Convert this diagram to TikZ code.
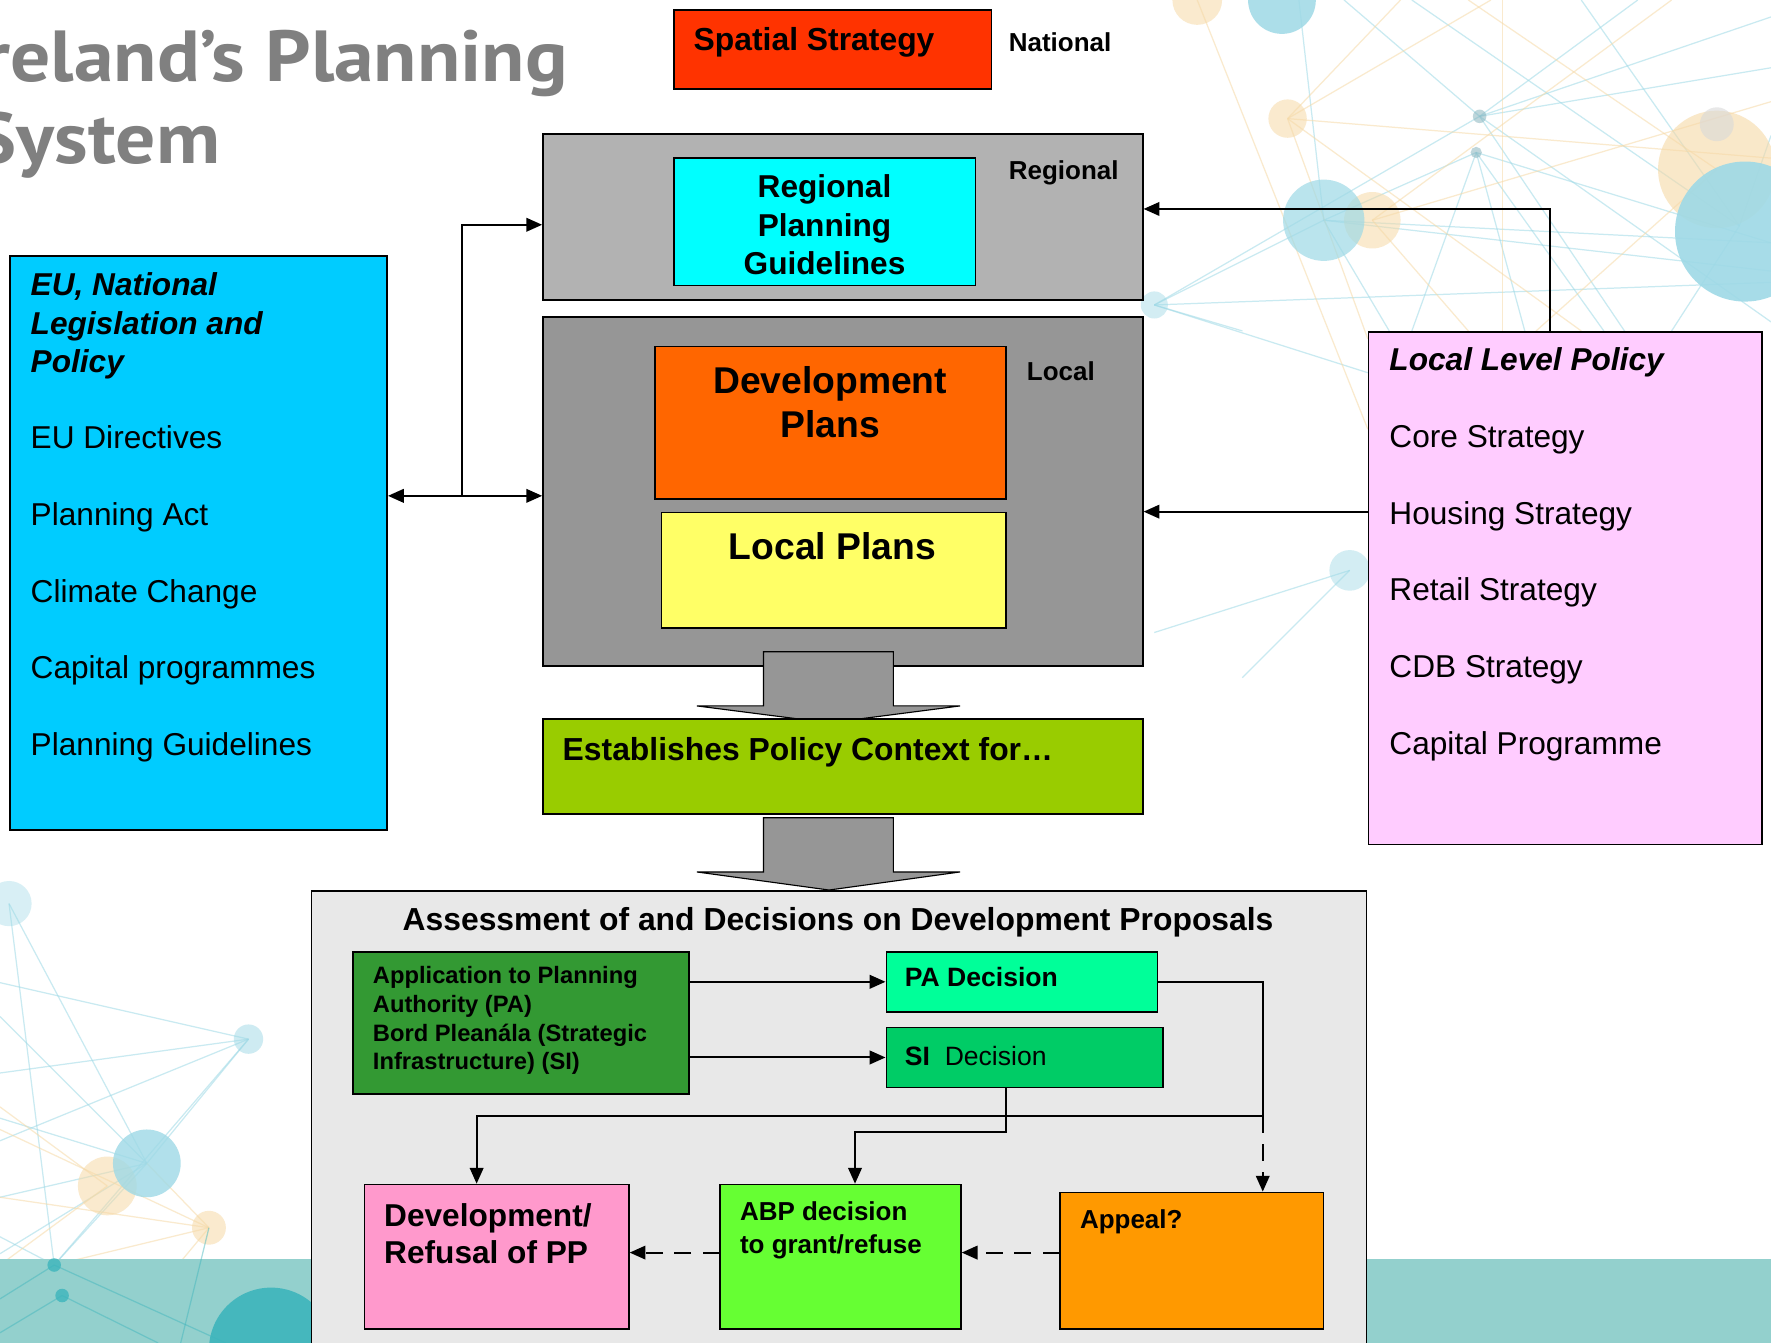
\documentclass[tikz,border=0pt]{standalone}
\usepackage{fontspec}
\setmainfont{Liberation Sans}
\newfontfamily\titlefont{PT Sans}
\usetikzlibrary{arrows.meta}
\definecolor{cRed}{HTML}{FF3300}
\definecolor{cCyan}{HTML}{00FFFF}
\definecolor{cGrayA}{HTML}{B2B2B2}
\definecolor{cGrayB}{HTML}{969696}
\definecolor{cOrange}{HTML}{FF6600}
\definecolor{cYellow}{HTML}{FFFF66}
\definecolor{cLime}{HTML}{99CC00}
\definecolor{cSky}{HTML}{00CCFF}
\definecolor{cPinkL}{HTML}{FFCCFF}
\definecolor{cAssess}{HTML}{E8E8E8}
\definecolor{cDkGreen}{HTML}{339933}
\definecolor{cMint}{HTML}{00FF99}
\definecolor{cGreenB}{HTML}{00CC66}
\definecolor{cPink}{HTML}{FF99CC}
\definecolor{cBright}{HTML}{66FF33}
\definecolor{cAmber}{HTML}{FF9900}
\definecolor{cTitle}{HTML}{808080}
\definecolor{cBand}{HTML}{93D0CD}
\definecolor{nTeal}{HTML}{9ED9E6}
\definecolor{nOr}{HTML}{F6D9A6}
\definecolor{nDark}{HTML}{3DB5BC}
\newcommand\mybox[6]{\node[box, fill=#6, minimum width=#4pt, minimum height=#5pt] (#1) at (#2,#3) {};}
\begin{document}
\begin{tikzpicture}[x=1pt,y=-1pt,
  box/.style={draw=black, line width=1.5pt, inner sep=0pt, anchor=north west},
  lbl/.style={inner sep=0pt, anchor=base west},
  ctr/.style={inner sep=0pt, anchor=base},
  fL/.style={font=\fontsize{28}{33}\selectfont},
  fM/.style={font=\fontsize{23}{28}\selectfont\bfseries},
  fS/.style={font=\fontsize{21}{25}\selectfont\bfseries},
  fB/.style={font=\fontsize{33}{39}\selectfont\bfseries},
  conn/.style={line width=1.8pt},
  arr/.style={conn, -{Triangle[length=14pt,width=12pt]}},
  darr/.style={conn, {Triangle[length=14pt,width=12pt]}-{Triangle[length=14pt,width=12pt]}},
  dsh/.style={dash pattern=on 15pt off 10pt},
  blk/.style={draw=black, line width=1pt, fill=cGrayB},
  nl/.style={line width=1.1pt, opacity=0.55},
]
\path[use as bounding box] (0,0) rectangle (1568,1189);
\clip (0,0) rectangle (1568,1189);
\fill[white] (0,0) rectangle (1568,1189);

% ---------- background network (decoration) ----------
\begin{scope}[nl]
  \foreach \p/\q in {{1310,103}/{1568,60},{1310,103}/{1568,15},{1310,103}/{1450,0},{1310,103}/{1190,0},{1310,103}/{1022,270},{1310,103}/{1568,285},{1310,103}/{1470,340},
                     {1307,135}/{1172,195},{1307,135}/{1250,293},{1307,135}/{1568,215},{1307,135}/{1420,293},{1307,135}/{1350,293},
                     {1172,195}/{1022,270},{1172,195}/{1568,215},{1172,195}/{1568,240},{1172,195}/{1230,293},{1172,195}/{1150,0},
                     {1022,270}/{1568,250},{1022,270}/{1211,330},{1022,270}/{1100,293},
                     {1540,200}/{1400,0},{1540,200}/{1250,0},{1540,200}/{1480,293},{1540,200}/{1568,120},
                     {1195,505}/{1022,560},{1195,505}/{1100,600}}
    {\draw[nTeal] (\p) -- (\q);}
  \foreach \p/\q in {{1140,105}/{1568,140},{1140,105}/{1320,0},{1140,105}/{1240,0},{1140,105}/{1211,300},{1140,105}/{1400,293},
                     {1215,195}/{1568,90},{1215,195}/{1480,0},{1215,195}/{1300,293},
                     {1520,150}/{1300,0},{1520,150}/{1360,293},{1060,0}/{1211,380},{1330,0}/{1330,293}}
    {\draw[nOr] (\p) -- (\q);}
  \foreach \p/\q in {{220,920}/{0,870},{220,920}/{0,950},{220,920}/{48,1120},{220,920}/{130,1030},{220,920}/{0,1010},
                     {130,1030}/{0,990},{130,1030}/{0,1060},{130,1030}/{8,800},{130,1030}/{48,1120},{130,1030}/{0,1110},
                     {8,800}/{48,1120},{0,900}/{130,1030},{48,1120}/{0,1095},{48,1120}/{0,1160},{55,1147}/{0,1189},{55,1147}/{110,1189},{55,1147}/{0,1130}}
    {\draw[nTeal] (\p) -- (\q);}
  \foreach \p/\q in {{185,1087}/{0,1000},{185,1087}/{48,1120},{185,1087}/{100,1189},{185,1087}/{130,1030},{95,1050}/{0,980},{95,1050}/{0,1120},{185,1087}/{0,1060}}
    {\draw[nOr] (\p) -- (\q);}
\end{scope}
\fill[nOr, opacity=0.6] (1520,150) circle (52);
\fill[nTeal, opacity=0.9] (1545,205) circle (62);
\fill[black!15, opacity=0.6] (1520,110) circle (15);
\fill[nOr, opacity=0.55] (1060,0) circle (22);
\fill[nTeal, opacity=0.85] (1135,0) circle (30);
\fill[nOr, opacity=0.55] (1140,105) circle (17);
\fill[nOr, opacity=0.55] (1215,195) circle (25);
\fill[nTeal, opacity=0.7] (1172,195) circle (36);
\fill[nTeal!80!black, opacity=0.5] (1310,103) circle (6);
\fill[nTeal!80!black, opacity=0.5] (1307,135) circle (5);
\fill[nTeal, opacity=0.45] (1022,270) circle (12);
\fill[nTeal, opacity=0.45] (1195,505) circle (18);
\fill[nTeal, opacity=0.4] (8,800) circle (20);
\fill[nTeal, opacity=0.5] (220,920) circle (13);
\fill[nOr, opacity=0.55] (95,1050) circle (26);
\fill[nTeal, opacity=0.8] (130,1030) circle (30);
\fill[nOr, opacity=0.55] (185,1087) circle (15);
\fill[cBand] (0,1115) rectangle (1568,1189);
\begin{scope}[line width=1.1pt, nDark, opacity=0.45]
  \draw (48,1120) -- (0,1150); \draw (55,1147) -- (0,1180); \draw (55,1147) -- (140,1189);
  \draw (48,1120) -- (200,1189); \draw (185,1087) -- (160,1189);
\end{scope}
\fill[nDark, opacity=0.8] (48,1120) circle (6);
\fill[nDark, opacity=0.8] (55,1147) circle (6);
\fill[nDark, opacity=0.9] (240,1195) circle (55);

% ---------- title ----------
\node[inner sep=0pt, anchor=base east, text=cTitle, font=\titlefont\bfseries\fontsize{64}{70}\selectfont] (title1) at (503,72) {\scalebox{1.1}[1]{Ireland’s Planning}};
\node[inner sep=0pt, anchor=base east, text=cTitle, font=\titlefont\bfseries\fontsize{64}{70}\selectfont] (title2) at (195,145) {\scalebox{1.1}[1]{System}};

% ---------- national ----------
\mybox{spatial}{596}{8}{281}{70}{cRed}
\node[lbl, font=\fontsize{28.2}{33}\selectfont\bfseries] (spatialT) at (614,45) {Spatial Strategy};
\node[lbl, fM] (national) at (893,46) {National};

% ---------- regional ----------
\mybox{regional}{480}{118}{531}{147}{cGrayA}
\mybox{rpg}{596}{139}{267}{113}{cCyan}
\node[ctr, font=\fontsize{28}{33}\selectfont\bfseries] (rpg1) at (730,175) {Regional};
\node[ctr, font=\fontsize{28}{33}\selectfont\bfseries] (rpg2) at (730,209) {Planning};
\node[ctr, font=\fontsize{28}{33}\selectfont\bfseries] (rpg3) at (730,243) {Guidelines};
\node[lbl, fM] (regionalT) at (893,159) {Regional};

% ---------- local ----------
\mybox{local}{480}{280}{531}{309}{cGrayB}
\mybox{devplans}{579}{306}{311}{135}{cOrange}
\node[ctr, fB] (dev1) at (735,348) {Development};
\node[ctr, fB] (dev2) at (735,387) {Plans};
\node[lbl, fM] (localT) at (909,337) {Local};
\mybox{localplans}{585}{453}{305}{102}{cYellow}
\node[ctr, fB] (lp1) at (737,495) {Local Plans};

\draw[blk] (676,577) -- (791,577) -- (791,625) -- (850,625) -- (734,640) -- (617,625) -- (676,625) -- cycle;

% ---------- establishes ----------
\mybox{estab}{480}{636}{531}{84}{cLime}
\node[lbl, font=\fontsize{28.2}{33}\selectfont\bfseries] (estabT) at (498,673) {Establishes Policy Context for…};

% ---------- EU box ----------
\mybox{eu}{8}{226}{334}{508}{cSky}
\node[lbl, fL] (eu1) at (27,262) {\bfseries\itshape EU, National};
\node[lbl, fL] (eu2) at (27,296) {\bfseries\itshape Legislation and};
\node[lbl, fL] (eu3) at (27,330) {\bfseries\itshape Policy};
\node[lbl, fL] (eu4) at (27,397) {EU Directives};
\node[lbl, fL] (eu5) at (27,465) {Planning Act};
\node[lbl, fL] (eu6) at (27,533) {Climate Change};
\node[lbl, fL] (eu7) at (27,601) {Capital programmes};
\node[lbl, fL] (eu8) at (27,669) {Planning Guidelines};

% ---------- Local level policy ----------
\mybox{llp}{1211}{293}{348}{454}{cPinkL}
\node[lbl, fL] (llp1) at (1230,328) {\bfseries\itshape Local Level Policy};
\node[lbl, fL] (llp2) at (1230,396) {Core Strategy};
\node[lbl, fL] (llp3) at (1230,464) {Housing Strategy};
\node[lbl, fL] (llp4) at (1230,532) {Retail Strategy};
\node[lbl, fL] (llp5) at (1230,600) {CDB Strategy};
\node[lbl, fL] (llp6) at (1230,668) {Capital Programme};

% ---------- assessment ----------
\mybox{assess}{275}{788}{934}{460}{cAssess}
\draw[blk] (676,724) -- (791,724) -- (791,772) -- (850,772) -- (734,788) -- (617,772) -- (676,772) -- cycle;
\node[ctr, font=\fontsize{28.2}{33}\selectfont\bfseries] (assessT) at (742,824) {Assessment of and Decisions on Development Proposals};

\mybox{app}{312}{842}{297}{126}{cDkGreen}
\node[lbl, fS] (app1) at (330,871) {Application to Planning};
\node[lbl, fS] (app2) at (330,896) {Authority (PA)};
\node[lbl, fS] (app3) at (330,922) {Bord Pleanála (Strategic};
\node[lbl, fS] (app4) at (330,947) {Infrastructure) (SI)};

\mybox{pa}{784}{842}{240}{53}{cMint}
\node[lbl, font=\fontsize{23.5}{27}\selectfont\bfseries] (paT) at (801,873) {PA Decision};
\mybox{si}{784}{909}{245}{53}{cGreenB}
\node[lbl, font=\fontsize{23.5}{27}\selectfont] (siT) at (801,943) {\textbf{SI}\ \ Decision};

\mybox{devref}{322}{1048}{234}{128}{cPink}
\node[lbl, font=\fontsize{28}{33}\selectfont\bfseries] (dr1) at (340,1086) {Development/};
\node[lbl, font=\fontsize{28}{33}\selectfont\bfseries] (dr2) at (340,1119) {Refusal of PP};
\mybox{abp}{637}{1048}{213}{128}{cBright}
\node[lbl, fM] (abp1) at (655,1081) {ABP decision};
\node[lbl, fM] (abp2) at (655,1110) {to grant/refuse};
\mybox{appeal}{938}{1055}{233}{121}{cAmber}
\node[lbl, fM] (appealT) at (956,1088) {Appeal?};

% ---------- connectors ----------
\coordinate (yA) at (0,439);
\coordinate (yB) at (0,199);
\coordinate (xC) at (1372,0);
\coordinate (yD) at (0,185);
\coordinate (yE) at (0,453);
\coordinate (j) at (1118,988);
\coordinate (x422) at (422,0);
\coordinate (x891) at (891,0);
\coordinate (x757) at (757,0);
\coordinate (yF) at (0,1109);
\coordinate (brk) at (409,439);

\draw[darr] (eu.east |- yA) -- (local.west |- yA);
\draw[arr] (brk) |- (regional.west |- yB);
\draw[arr] (llp.north -| xC) |- (regional.east |- yD);
\draw[arr] (llp.west |- yE) -- (local.east |- yE);

\draw[arr] (app.east |- pa) -- (pa.west);
\draw[arr] (app.east |- si) -- (si.west);
\draw[conn] (pa.east) -| (j);
\draw[arr] (j) -| (devref.north -| x422);
\draw[arr, dsh] (j) -- (appeal.north -| j);
\draw[arr] (si.south -| x891) -- ++(0,39) -| (abp.north -| x757);
\draw[arr, dsh] (appeal.west |- yF) -- (abp.east |- yF);
\draw[arr, dsh] (abp.west |- yF) -- (devref.east |- yF);
\end{tikzpicture}
\end{document}
